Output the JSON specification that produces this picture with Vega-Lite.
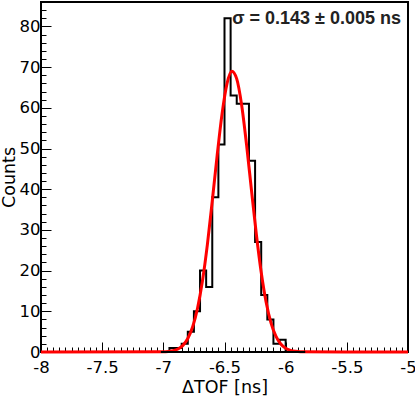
{
  "$schema": "https://vega.github.io/schema/vega-lite/v6.json",
  "width": 367,
  "height": 350,
  "autosize": "none",
  "padding": {"left": 41, "top": 2, "right": 7, "bottom": 45},
  "background": "white",
  "config": {
    "view": {"stroke": "#000", "strokeWidth": 2},
    "font": "DejaVu Sans",
    "axis": {
      "grid": false,
      "domain": false,
      "tickColor": "#000",
      "tickWidth": 1,
      "labelColor": "#000",
      "titleColor": "#000",
      "labelFont": "DejaVu Sans",
      "titleFont": "DejaVu Sans",
      "labelFontSize": 16.5,
      "titleFontSize": 17.5,
      "titleFontWeight": "normal",
      "labelFlush": false,
      "labelOverlap": false
    }
  },
  "resolve": {"axis": {"x": "independent", "y": "independent"}},
  "layer": [
    {
      "data": {
        "values": [
          {"edge": -7.0, "counts": 0},
          {"edge": -6.95, "counts": 1},
          {"edge": -6.9, "counts": 1},
          {"edge": -6.85, "counts": 2},
          {"edge": -6.8, "counts": 5},
          {"edge": -6.75, "counts": 10},
          {"edge": -6.7, "counts": 20},
          {"edge": -6.65, "counts": 16},
          {"edge": -6.6, "counts": 38},
          {"edge": -6.55, "counts": 51},
          {"edge": -6.5, "counts": 82},
          {"edge": -6.45, "counts": 63},
          {"edge": -6.4, "counts": 61},
          {"edge": -6.35, "counts": 61},
          {"edge": -6.3, "counts": 47},
          {"edge": -6.25, "counts": 27},
          {"edge": -6.2, "counts": 14},
          {"edge": -6.15, "counts": 8},
          {"edge": -6.1, "counts": 2},
          {"edge": -6.05, "counts": 3},
          {"edge": -6.0, "counts": 0},
          {"edge": -5.85, "counts": 0}
        ]
      },
      "mark": {"type": "line", "interpolate": "step-after", "color": "#000", "strokeWidth": 2},
      "encoding": {
        "x": {
          "field": "edge",
          "type": "quantitative",
          "scale": {"domain": [-8, -5], "nice": false, "zero": false},
          "axis": {
            "orient": "bottom",
            "values": [-8, -7.5, -7, -6.5, -6, -5.5, -5],
            "labelExpr": "'' + datum.value",
            "tickSize": -10,
            "labelPadding": 17,
            "title": "ΔTOF [ns]",
            "titlePadding": 3
          }
        },
        "y": {
          "field": "counts",
          "type": "quantitative",
          "scale": {"domain": [0, 86], "nice": false},
          "axis": {
            "orient": "left",
            "values": [0, 10, 20, 30, 40, 50, 60, 70, 80],
            "tickSize": -10,
            "labelPadding": 11,
            "title": "Counts",
            "titlePadding": 1
          }
        }
      }
    },
    {
      "data": {
        "values": [
          {"x": -8.0, "y": 0},
          {"x": -7.0, "y": 0.05},
          {"x": -6.96, "y": 0.13},
          {"x": -6.92, "y": 0.32},
          {"x": -6.88, "y": 0.75},
          {"x": -6.84, "y": 1.63},
          {"x": -6.8, "y": 3.3},
          {"x": -6.76, "y": 6.19},
          {"x": -6.72, "y": 10.8},
          {"x": -6.68, "y": 17.5},
          {"x": -6.64, "y": 26.4},
          {"x": -6.6, "y": 37.1},
          {"x": -6.56, "y": 48.3},
          {"x": -6.52, "y": 58.5},
          {"x": -6.48, "y": 65.9},
          {"x": -6.44, "y": 69.0},
          {"x": -6.4, "y": 67.1},
          {"x": -6.36, "y": 60.7},
          {"x": -6.32, "y": 51.0},
          {"x": -6.28, "y": 39.9},
          {"x": -6.24, "y": 29.0},
          {"x": -6.2, "y": 19.6},
          {"x": -6.16, "y": 12.3},
          {"x": -6.12, "y": 7.16},
          {"x": -6.08, "y": 3.89},
          {"x": -6.04, "y": 1.96},
          {"x": -6.0, "y": 0.92},
          {"x": -5.96, "y": 0.4},
          {"x": -5.92, "y": 0.16},
          {"x": -5.88, "y": 0.06},
          {"x": -5.0, "y": 0}
        ]
      },
      "mark": {"type": "line", "interpolate": "monotone", "color": "#ff0000", "strokeWidth": 3},
      "encoding": {
        "x": {
          "field": "x",
          "type": "quantitative",
          "axis": {
            "orient": "bottom",
            "values": [-8,-7.95,-7.9,-7.85,-7.8,-7.75,-7.7,-7.65,-7.6,-7.55,-7.5,-7.45,-7.4,-7.35,-7.3,-7.25,-7.2,-7.15,-7.1,-7.05,-7,-6.95,-6.9,-6.85,-6.8,-6.75,-6.7,-6.65,-6.6,-6.55,-6.5,-6.45,-6.4,-6.35,-6.3,-6.25,-6.2,-6.15,-6.1,-6.05,-6,-5.95,-5.9,-5.85,-5.8,-5.75,-5.7,-5.65,-5.6,-5.55,-5.5,-5.45,-5.4,-5.35,-5.3,-5.25,-5.2,-5.15,-5.1,-5.05,-5],
            "labels": false,
            "tickSize": -5,
            "title": null
          }
        },
        "y": {
          "field": "y",
          "type": "quantitative",
          "axis": {
            "orient": "left",
            "values": [0,2,4,6,8,10,12,14,16,18,20,22,24,26,28,30,32,34,36,38,40,42,44,46,48,50,52,54,56,58,60,62,64,66,68,70,72,74,76,78,80,82,84,86],
            "labels": false,
            "tickSize": -5,
            "title": null
          }
        }
      }
    },
    {
      "data": {"values": [{"from": -7.02, "to": -5.84, "level": 0}]},
      "mark": {"type": "rule", "color": "#000", "strokeWidth": 2},
      "encoding": {
        "x": {"field": "from", "type": "quantitative", "axis": null},
        "x2": {"field": "to"},
        "y": {"field": "level", "type": "quantitative", "axis": null}
      }
    },
    {
      "data": {"values": [{"label": "σ = 0.143 ± 0.005 ns"}]},
      "mark": {"type": "text", "align": "right", "baseline": "alphabetic", "font": "Liberation Sans", "fontSize": 18, "fontWeight": "bold", "color": "#222"},
      "encoding": {
        "x": {"datum": -5.057, "type": "quantitative", "axis": null},
        "y": {"datum": 80.6, "type": "quantitative", "axis": null},
        "text": {"field": "label"}
      }
    }
  ]
}
